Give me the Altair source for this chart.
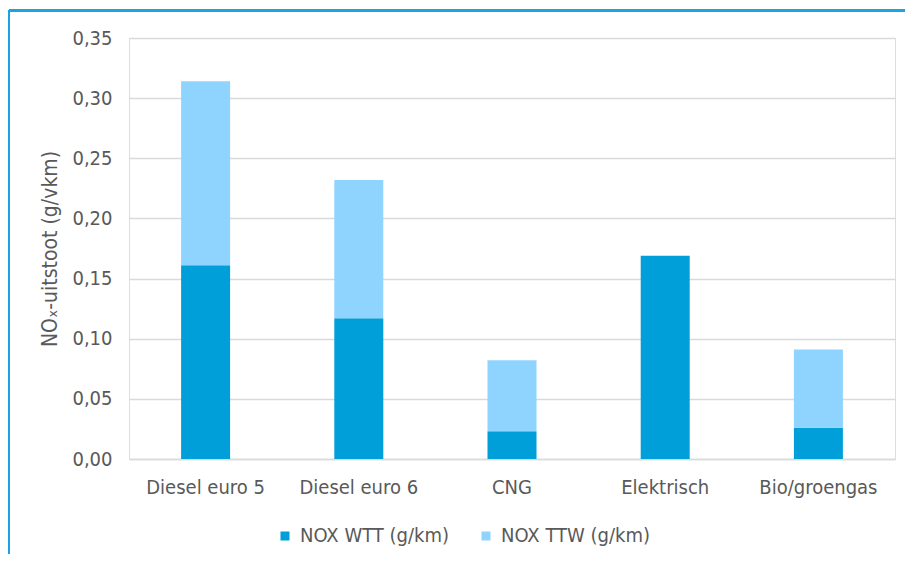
import altair as alt
import pandas as pd

categories = ["Diesel euro 5", "Diesel euro 6", "CNG", "Elektrisch", "Bio/groengas"]
series = ["NOX WTT (g/km)", "NOX TTW (g/km)"]
wtt = [0.161, 0.117, 0.023, 0.169, 0.026]
ttw = [0.153, 0.115, 0.059, 0.0, 0.065]
y_ticks = [0.0, 0.05, 0.10, 0.15, 0.20, 0.25, 0.30, 0.35]
colors = ["#019FDA", "#8FD3FF"]

rows = []
for i, c in enumerate(categories):
    rows.append({"cat": c, "series": series[0], "value": wtt[i], "ord": 0})
    rows.append({"cat": c, "series": series[1], "value": ttw[i], "ord": 1})
df = pd.DataFrame(rows)

FONT = "DejaVu Sans Condensed, DejaVu Sans, sans-serif"
TXT = "#595959"

bars = alt.Chart(df).mark_bar(size=49).encode(
    x=alt.X("cat:N", sort=categories, title=None,
            scale=alt.Scale(paddingInner=0, paddingOuter=0),
            axis=alt.Axis(labelAngle=0, labelFontSize=20, labelColor=TXT, labelFont=FONT,
                          ticks=False, domainColor="#d9d9d9", domainWidth=1.5,
                          labelPadding=18)),
    y=alt.Y("value:Q", stack="zero",
            scale=alt.Scale(domain=[0, 0.35], nice=False),
            title="NOₓ-uitstoot (g/vkm)",
            axis=alt.Axis(values=y_ticks, labelExpr="replace(format(datum.value, '.2f'), '.', ',')",
                          labelFontSize=20, labelColor=TXT, labelFont=FONT, ticks=False, domain=False,
                          gridColor="#d9d9d9", gridWidth=1.5, labelPadding=17,
                          titleFontSize=21, titleFont=FONT, titleColor=TXT, titleFontWeight="normal",
                          titlePadding=11)),
    color=alt.Color("series:N", sort=series,
                    scale=alt.Scale(domain=series, range=colors),
                    legend=alt.Legend(title=None, orient="none", legendX=146, legendY=488,
                                      direction="horizontal", columns=2, columnPadding=27,
                                      symbolType="square", symbolSize=81, symbolStrokeWidth=0,
                                      labelFontSize=20, labelColor=TXT, labelFont=FONT,
                                      labelOffset=5, padding=0)),
    order=alt.Order("ord:Q", sort="ascending"),
)

border_v = alt.Chart(df).mark_rule(color="#1AA3E0", strokeWidth=2).encode(
    x=alt.value(-120), y=alt.value(-27.5), y2=alt.value(700))
border_h = alt.Chart(df).mark_rule(color="#1AA3E0", strokeWidth=2).encode(
    x=alt.value(-120), x2=alt.value(1000), y=alt.value(-27.5))

chart = alt.layer(bars, border_v, border_h).properties(
    width=766, height=421,
    autosize=alt.AutoSizeParams(type="none"),
    padding={"left": 121, "top": 30, "right": 10, "bottom": 95},
).configure_view(stroke="#d9d9d9", strokeWidth=1.5).configure(background="white")

chart.save("out.html", embed_options={"renderer": "svg", "actions": False})
